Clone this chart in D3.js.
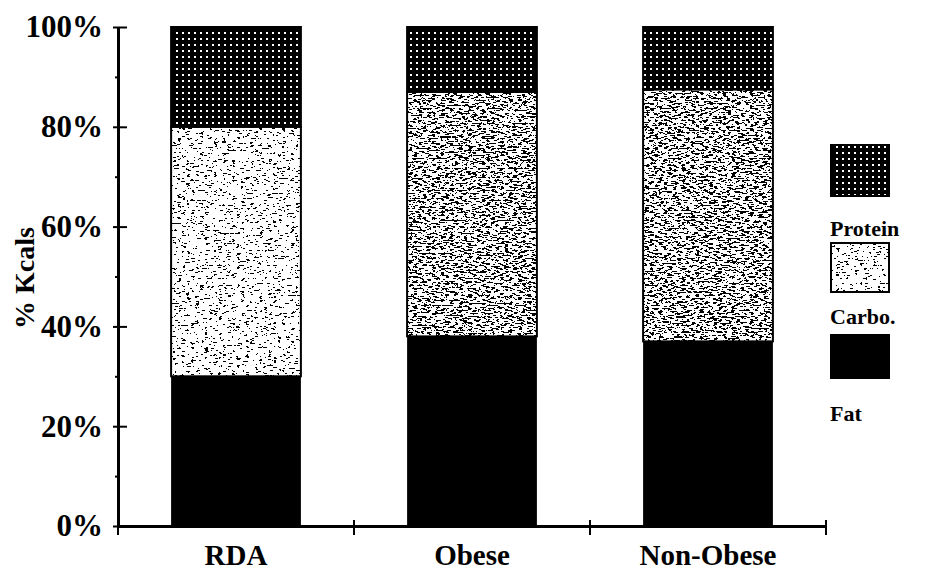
<!DOCTYPE html>
<html><head><meta charset="utf-8">
<script src="https://cdn.jsdelivr.net/npm/d3@7"></script>
<style>
html,body{margin:0;padding:0;background:#fff;}
svg{display:block;}
text{font-family:"Liberation Serif","Times New Roman",serif;font-weight:bold;fill:#000;}
</style></head>
<body>
<svg id="chart" width="931" height="572"></svg>
<script>
// ---- data ----
const categories = ["RDA", "Obese", "Non-Obese"];
const fat = [30, 38, 37];
const carbo = [50, 49, 50.5];
const protein = [20, 13, 12.5];
const yTicks = [0, 20, 40, 60, 80, 100];
const yMinorTicks = [10, 30, 50, 70, 90];
const legendItems = ["Protein", "Carbo.", "Fat"];
const seriesKeys = ["fat", "carbo", "protein"];

const rows = categories.map((c, i) => ({cat: c, fat: fat[i], carbo: carbo[i], protein: protein[i]}));

const svg = d3.select("#chart");
svg.append("rect").attr("width", 931).attr("height", 572).attr("fill", "#fff");

const defs = svg.append("defs");
// protein: black with white dot grid
const pp = defs.append("pattern").attr("id", "pat-protein").attr("patternUnits", "userSpaceOnUse")
  .attr("width", 6).attr("height", 6);
pp.append("rect").attr("width", 6).attr("height", 6).attr("fill", "#000");
pp.append("rect").attr("x", 2).attr("y", 2).attr("width", 2).attr("height", 2).attr("fill", "#fff");

function speckle(id, table, seed, freq) {
  const f = defs.append("filter").attr("id", id).attr("filterUnits", "objectBoundingBox")
    .attr("x", 0).attr("y", 0).attr("width", 1).attr("height", 1);
  f.append("feTurbulence").attr("type", "fractalNoise").attr("baseFrequency", freq)
    .attr("numOctaves", 3).attr("seed", seed).attr("result", "n");
  f.append("feColorMatrix").attr("in", "n").attr("type", "matrix")
    .attr("values", "0 0 0 0 0  0 0 0 0 0  0 0 0 0 0  -1 0 0 0 1").attr("result", "a");
  const ct = f.append("feComponentTransfer").attr("in", "a");
  ct.append("feFuncA").attr("type", "discrete").attr("tableValues", table);
}
speckle("speck-light", "0 0 0 0 0 0 0 0 0 0 0 0 0 1 1 1 1 1 1 1", 4, "0.22 0.6");
speckle("speck-dark", "0 0 0 0 0 0 0 0 0 0 0 1 1 1 1 1 1 1 1 1", 7, "0.22 0.6");

// ---- scales ----
const x = d3.scaleBand().domain(categories).range([118, 826]).paddingInner(0.45).paddingOuter(0.225);
const y = d3.scaleLinear().domain([0, 100]).range([526, 27]);

const stack = d3.stack().keys(seriesKeys)(rows);

const gBars = svg.append("g");
stack.forEach(layer => {
  const key = layer.key;
  layer.forEach((d, i) => {
    const x0 = x(d.data.cat), w = x.bandwidth();
    const yt = y(d[1]), h = y(d[0]) - y(d[1]);
    if (key === "fat") {
      gBars.append("rect").attr("x", x0).attr("y", yt).attr("width", w).attr("height", h).attr("fill", "#000");
    } else if (key === "protein") {
      gBars.append("rect").attr("x", x0).attr("y", yt).attr("width", w).attr("height", h)
        .attr("fill", "url(#pat-protein)").attr("stroke", "#000").attr("stroke-width", 2);
    } else {
      gBars.append("rect").attr("x", x0).attr("y", yt).attr("width", w).attr("height", h).attr("fill", "#fff");
      gBars.append("rect").attr("x", x0).attr("y", yt).attr("width", w).attr("height", h).attr("fill", "#000")
        .attr("filter", i === 0 ? "url(#speck-light)" : "url(#speck-dark)");
      gBars.append("rect").attr("x", x0).attr("y", yt).attr("width", w).attr("height", h)
        .attr("fill", "none").attr("stroke", "#000").attr("stroke-width", 2);
    }
  });
});

// ---- y axis ----
const yAxis = svg.append("g").attr("transform", "translate(118,0)")
  .call(d3.axisLeft(y).tickValues(yTicks).tickFormat(d => d + "%").tickSize(5).tickSizeOuter(0).tickPadding(10));
yAxis.select(".domain").attr("stroke-width", 3);
yAxis.selectAll(".tick line").attr("x1", 9).attr("stroke-width", 2);
yAxis.selectAll(".tick text").attr("font-size", 31).attr("font-family", "Liberation Serif").attr("font-weight", "bold");

const yMinor = svg.append("g").attr("transform", "translate(118,0)")
  .call(d3.axisLeft(y).tickValues(yMinorTicks).tickFormat("").tickSize(3).tickSizeOuter(0));
yMinor.select(".domain").remove();
yMinor.selectAll(".tick line").attr("stroke-width", 2);

// ---- x axis ----
const xAxis = svg.append("g").attr("transform", "translate(0,526)")
  .call(d3.axisBottom(x).tickSize(0).tickPadding(18));
xAxis.select(".domain").attr("stroke-width", 3);
xAxis.selectAll(".tick text").attr("font-size", 29).attr("font-family", "Liberation Serif").attr("font-weight", "bold");
const bounds = d3.range(categories.length + 1).map(i => x.range()[0] + i * x.step());
xAxis.selectAll(".bound").data(bounds).enter().append("line").attr("class", "bound")
  .attr("x1", d => d).attr("x2", d => d).attr("y1", -6).attr("y2", 9)
  .attr("stroke", "#000").attr("stroke-width", 2);

// ---- y label ----
svg.append("text").attr("transform", "translate(34,278) rotate(-90)")
  .attr("text-anchor", "middle").attr("font-size", 28).text("% Kcals");

// ---- legend ----
const legend = svg.append("g");
const swatchTops = [145, 243, 335];
const swatchH = [51, 49, 43];
const labelY = [236, 324, 421];
const fills = ["url(#pat-protein)", "#fff", "#000"];
legendItems.forEach((name, i) => {
  legend.append("rect").attr("x", 831).attr("y", swatchTops[i]).attr("width", 58).attr("height", swatchH[i])
    .attr("fill", fills[i]).attr("stroke", "#000").attr("stroke-width", 2);
  if (i === 1) {
    legend.append("rect").attr("x", 831).attr("y", swatchTops[i]).attr("width", 58).attr("height", swatchH[i])
      .attr("fill", "#000").attr("filter", "url(#speck-light)");
  }
  legend.append("text").attr("x", 830).attr("y", labelY[i]).attr("font-size", 22).text(name);
});
</script>
</body></html>
